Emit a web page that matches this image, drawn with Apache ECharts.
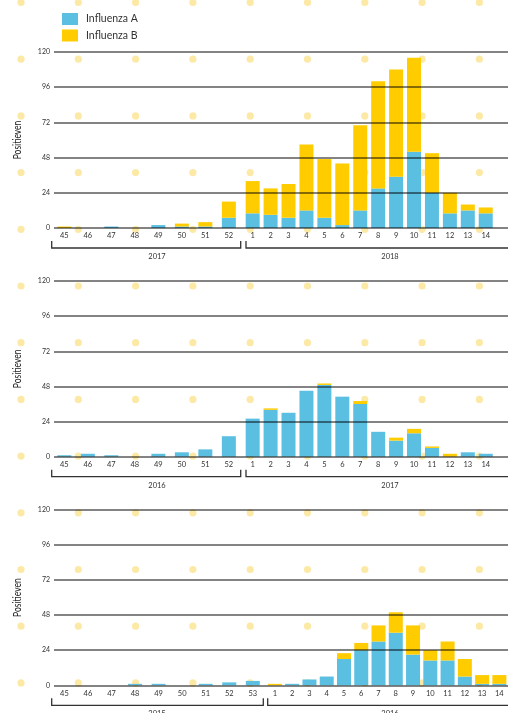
<!DOCTYPE html>
<html>
<head>
<meta charset="utf-8">
<script src="https://cdn.jsdelivr.net/npm/echarts@6/dist/echarts.min.js"></script>
<style>
  html, body { margin: 0; padding: 0; background: #fff; }
  #chart { width: 508px; height: 713px; }
</style>
</head>
<body>
<div id="chart"></div>
<script>
// week labels
var weeksPrev = ["45", "46", "47", "48", "49", "50", "51", "52"];
var weeksPrev53 = ["45", "46", "47", "48", "49", "50", "51", "52", "53"];
var weeksNew = ["1", "2", "3", "4", "5", "6", "7", "8", "9", "10", "11", "12", "13", "14"];
var yTicks = [0, 24, 48, 72, 96, 120];

// season 2017-2018
var years1 = ["2017", "2018"];
var prevA1 = [0, 0, 1, 0, 2, 1, 1, 7];
var prevB1 = [1, 0, 0, 0, 0, 2, 3, 11];
var newA1 = [10, 9, 7, 12, 7, 2, 12, 27, 35, 52, 24, 10, 12, 10];
var newB1 = [22, 18, 23, 45, 40, 42, 58, 73, 73, 64, 27, 14, 4, 4];

// season 2016-2017
var years2 = ["2016", "2017"];
var prevA2 = [1, 2, 1, 0, 2, 3, 5, 14];
var prevB2 = [0, 0, 0, 0, 0, 0, 0, 0];
var newA2 = [26, 32, 30, 45, 49, 41, 36, 17, 11, 16, 6, 0, 3, 2];
var newB2 = [0, 1, 0, 0, 1, 0, 2, 0, 2, 3, 1, 2, 0, 0];

// season 2015-2016
var years3 = ["2015", "2016"];
var prevA3 = [0, 0, 0, 1, 1, 0, 1, 2, 3];
var prevB3 = [0, 0, 0, 0, 0, 0, 0, 0, 0];
var newA3 = [0, 1, 4, 6, 18, 24, 30, 36, 21, 17, 17, 6, 1, 1];
var newB3 = [1, 0, 0, 0, 4, 5, 11, 14, 20, 7, 13, 12, 6, 6];

var colorA = "#5bbfe1";
var colorB = "#ffcc00";
var font = "Lato, 'Noto Sans', sans-serif";

var panels = [
  { top: 52, height: 176, prev: weeksPrev, prevA: prevA1, prevB: prevB1, newA: newA1, newB: newB1, years: years1,
    left: [52.6, 188], right: [243.7, 251], split: [51.7, 240.7, 246] },
  { top: 281, height: 175.7, prev: weeksPrev, prevA: prevA2, prevB: prevB2, newA: newA2, newB: newB2, years: years2,
    left: [52.6, 188], right: [243.7, 251], split: [51.7, 240.7, 246] },
  { top: 510, height: 175.3, prev: weeksPrev53, prevA: prevA3, prevB: prevB3, newA: newA3, newB: newB3, years: years3,
    left: [52.6, 212], right: [266.3, 244], split: [51.7, 263.3, 267.7] },
];

var chart = echarts.init(document.getElementById("chart"));
var grid = [], xAxis = [], yAxis = [], series = [], graphic = [];

// background dots
for (var j = 0; j < 13; j++) {
  for (var k = 0; k < 9; k++) {
    graphic.push({
      type: "circle", z: -10, silent: true,
      shape: { cx: 21 + 57.3 * k, cy: 2.5 + 56.7 * j, r: 3.6 },
      style: { fill: "#fde9a6" },
    });
  }
}

function catX(idx, data) {
  return {
    type: "category", gridIndex: idx, data: data,
    axisLine: { show: false },
    axisTick: { alignWithLabel: true, length: 3.5, lineStyle: { color: "#222", width: 1 } },
    axisLabel: { interval: 0, fontSize: 7.5, color: "#333", margin: 4, fontFamily: font },
    splitLine: { show: false },
  };
}
function hiddenY(idx) {
  return { type: "value", gridIndex: idx, min: 0, max: 120, interval: 24, show: false, splitLine: { show: false } };
}
function bars(name, idx, data, color, stack) {
  return {
    name: name, type: "bar", xAxisIndex: idx, yAxisIndex: idx, data: data,
    stack: stack, barWidth: 14, itemStyle: { color: color }, z: 2,
  };
}

panels.forEach(function (p, i) {
  var g = i * 3;
  // lines grid (on top of bars)
  grid.push({ left: 54, right: -2, top: p.top, height: p.height });
  xAxis.push({ type: "value", gridIndex: g, min: 0, max: 1, show: false });
  yAxis.push({
    type: "value", gridIndex: g, min: 0, max: 120, interval: 24, z: 10,
    axisLine: { show: false }, axisTick: { show: false },
    axisLabel: { fontSize: 7, color: "#333", margin: 4, fontFamily: font },
    splitLine: { show: true, lineStyle: { color: "rgba(0,0,0,0.65)", width: 1.5 } },
  });
  // previous year
  grid.push({ left: p.left[0], width: p.left[1], top: p.top, height: p.height });
  xAxis.push(catX(g + 1, p.prev));
  yAxis.push(hiddenY(g + 1));
  // new year
  grid.push({ left: p.right[0], width: p.right[1], top: p.top, height: p.height });
  xAxis.push(catX(g + 2, weeksNew));
  yAxis.push(hiddenY(g + 2));

  series.push(bars("Influenza A", g + 1, p.prevA, colorA, "s" + i + "L"));
  series.push(bars("Influenza B", g + 1, p.prevB, colorB, "s" + i + "L"));
  series.push(bars("Influenza A", g + 2, p.newA, colorA, "s" + i + "R"));
  series.push(bars("Influenza B", g + 2, p.newB, colorB, "s" + i + "R"));

  // axis title, condensed
  graphic.push({
    type: "text", silent: true, x: 17, y: p.top + p.height / 2,
    rotation: Math.PI / 2, scaleX: 0.74,
    style: { text: "Positieven", font: "11.5px " + font, fill: "#222", textAlign: "center", textVerticalAlign: "middle" },
  });

  // year brackets
  var base = p.top + p.height;
  var s = p.split;
  graphic.push({
    type: "polyline", silent: true,
    shape: { points: [[s[0], base + 13], [s[0], base + 20], [s[1], base + 20], [s[1], base + 13]] },
    style: { stroke: "#333", lineWidth: 1.3, fill: null },
  });
  graphic.push({
    type: "polyline", silent: true,
    shape: { points: [[s[2], base + 13], [s[2], base + 20], [510, base + 20]] },
    style: { stroke: "#333", lineWidth: 1.3, fill: null },
  });
  graphic.push({
    type: "text", silent: true, x: 157, y: base + 28.7,
    style: { text: p.years[0], font: "7.5px " + font, fill: "#333", textAlign: "center", textVerticalAlign: "middle" },
  });
  graphic.push({
    type: "text", silent: true, x: 390, y: base + 28.7,
    style: { text: p.years[1], font: "7.5px " + font, fill: "#333", textAlign: "center", textVerticalAlign: "middle" },
  });
});

var option = {
  animation: false,
  legend: {
    data: ["Influenza A", "Influenza B"],
    orient: "vertical", left: 57, top: 8,
    itemWidth: 16, itemHeight: 12, itemGap: 4.5, icon: "rect",
    textStyle: { fontSize: 10.5, color: "#333", fontFamily: font, padding: [0, 0, 0, 3] },
  },
  grid: grid,
  xAxis: xAxis,
  yAxis: yAxis,
  series: series,
  graphic: graphic,
};
chart.setOption(option);
</script>
</body>
</html>
